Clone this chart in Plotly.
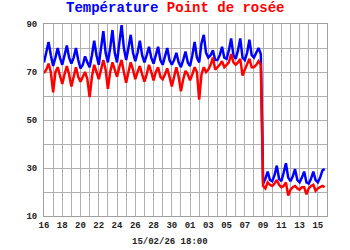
import plotly.graph_objects as go
import pandas as pd

# 6-hourly readings (00, 06, 12, 18 h) from 2026-01-16 00:00 to 2026-02-15 18:00
temperature = [
    74, 78, 82.5, 77,      # 16
    72.5, 76, 80, 76,      # 17
    73, 77, 81, 76,        # 18
    73.5, 76, 80, 75,      # 19
    71.5, 73, 76.5, 74,    # 20
    72, 77, 83, 77,        # 21
    73, 80, 87, 78,        # 22
    74, 80, 87.5, 78,      # 23
    74, 82, 89.5, 80,      # 24
    75, 80, 85.5, 78,      # 25
    74.5, 78, 83, 77,      # 26
    74, 77, 80.5, 76,      # 27
    73.5, 77, 80.5, 75,    # 28
    73, 76.5, 80, 75,      # 29
    73, 75, 78, 74,        # 30
    72, 75, 78.5, 74,      # 31
    72.5, 77, 82.5, 76,    # 01
    74, 82, 85.5, 78,      # 02
    76, 77, 79, 75,        # 03
    75, 77, 80.5, 76,      # 04
    75.5, 79, 84, 77,      # 05
    75.5, 79, 84, 76,      # 06
    75, 78, 83.5, 77,      # 07
    76, 78, 80, 77.5,      # 08
    23.5, 25.5, 28.5, 25,  # 09
    24.5, 27, 31, 25.5,    # 10
    24.5, 28, 32, 26,      # 11
    24.5, 26.5, 29.5, 25,  # 12
    24, 26, 28.5, 24,      # 13
    23.5, 25.5, 28.5, 25,  # 14
    24, 26, 29, 29.5,      # 15
]
dew_point = [
    69.5, 71, 73.5, 70,
    61.5, 70, 72, 68,
    65, 69, 72.5, 69,
    64, 68, 72, 68,
    66, 68, 70, 67,
    59.5, 68, 73, 70,
    67, 71, 75, 71,
    63, 70, 74, 71,
    68, 72, 75, 70,
    65.5, 70, 74, 71,
    67, 70, 72.5, 69,
    66, 69, 73, 70,
    66.5, 70, 72, 68,
    67, 69, 71.5, 68,
    64, 68, 72, 68,
    62, 67, 70.5, 69,
    66.5, 69, 72, 70,
    58.5, 69, 72, 70,
    71, 73, 76, 71,
    72, 73, 74.5, 72,
    73, 74, 77.5, 74,
    73, 74, 75.5, 68.5,
    71, 73, 75.5, 72,
    72, 73, 74.5, 73,
    22.5, 21.5, 24, 23,
    22.5, 23.5, 25, 23,
    22, 22.5, 24, 18.5,
    21, 22, 22.5, 21.5,
    21, 22, 22, 19,
    21.5, 22.5, 23, 20.5,
    21.5, 22, 22.5, 22,
]
times = pd.date_range("2026-01-16 00:00", periods=len(temperature), freq="6h")
x_range = ["2026-01-16", "2026-02-16"]
y_range = [10, 90]
title_temp = "Température"
title_dew = "Point de rosée"
timestamp_label = "15/02/26 18:00"

font_family = "Liberation Mono, Courier New, monospace"

fig = go.Figure()
fig.add_trace(go.Scatter(x=times, y=temperature, mode="lines",
                         line=dict(color="#0000ff", width=2.5), name=title_temp))
fig.add_trace(go.Scatter(x=times, y=dew_point, mode="lines",
                         line=dict(color="#ff0000", width=2.5), name=title_dew))

grid_col = "#b0b0b0"
fig.update_layout(
    width=350, height=250,
    margin=dict(l=44, r=23, t=24, b=34),
    paper_bgcolor="white", plot_bgcolor="white",
    showlegend=False,
    font=dict(family=font_family, size=9, color="#222222"),
    xaxis=dict(
        type="date", range=x_range,
        tick0="2026-01-16", dtick=2 * 86400000, tickformat="%d",
        showgrid=True, gridcolor=grid_col, gridwidth=1,
        minor=dict(dtick=86400000, showgrid=True, gridcolor=grid_col, gridwidth=1),
        showline=True, linecolor="#a0a0a0", mirror=True,
        ticks="", tickfont=dict(family=font_family, size=9, color="#222222", weight="bold"),
        zeroline=False, fixedrange=True,
    ),
    yaxis=dict(
        range=y_range, tick0=10, dtick=20,
        showgrid=True, gridcolor=grid_col, gridwidth=1,
        minor=dict(dtick=10, showgrid=True, gridcolor=grid_col, gridwidth=1),
        showline=True, linecolor="#a0a0a0", mirror=True,
        ticks="", ticklabelstandoff=4,
        tickfont=dict(family=font_family, size=9, color="#222222", weight="bold"),
        zeroline=False, fixedrange=True,
    ),
    annotations=[
        dict(text=f"<b><span style='color:#0000ff'>{title_temp}</span> "
                  f"<span style='color:#ff0000'>{title_dew}</span></b>",
             xref="paper", yref="paper", x=(175 - 44) / 283, y=1,
             xanchor="center", yanchor="bottom", yshift=6, showarrow=False,
             font=dict(family=font_family, size=14)),
        dict(text=timestamp_label, xref="paper", yref="paper",
             x=(170 - 44) / 283, y=0, xanchor="center", yanchor="middle",
             yshift=-26, showarrow=False,
             font=dict(family=font_family, size=9, color="#222222", weight="bold")),
    ],
)
fig.write_html("out.html")
